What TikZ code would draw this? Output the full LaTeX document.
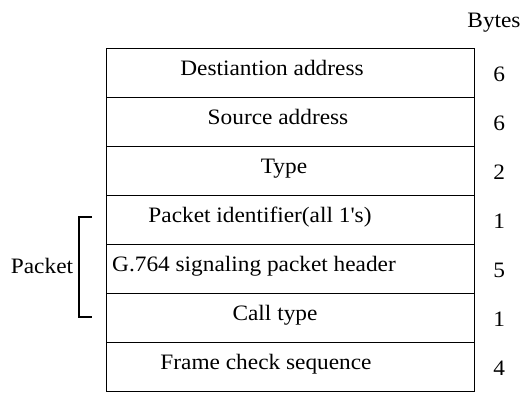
\documentclass[tikz,border=0pt]{standalone}
\usepackage{fontspec}
\setmainfont{Liberation Serif}[Ligatures=TeXOff,FakeStretch=1.06]
\begin{document}
\begin{tikzpicture}[x=1pt,y=-1pt,
  txt/.style={font=\fontsize{22}{25}\selectfont,text height=14.5pt,text depth=0pt,inner sep=0pt},
  field/.style={draw,line width=1.3pt,minimum width=368pt,minimum height=49pt,inner sep=0pt,anchor=north west},
  ftext/.style={txt},
  num/.style={txt},
  lbl/.style={txt}]
\useasboundingbox (0,0) rectangle (530,392);
\foreach \i/\y in {1/48,2/97,3/146,4/195,5/244,6/293,7/342}
  \node[field] (r\i) at (106,\y) {};
\node[ftext] (t1) at (272,68) {Destiantion address};
\node[ftext] (t2) at (278,117) {Source address};
\node[ftext] (t3) at (284,166) {Type};
\node[ftext] (t4) at (260,215) {Packet identifier(all 1's)};
\node[ftext,anchor=west] (t5) at (112,264) {G.764 signaling packet header};
\node[ftext] (t6) at (275,313) {Call type};
\node[ftext] (t7) at (266,362) {Frame check sequence};
\node[lbl] (bytes) at (494,20) {Bytes};
\foreach \i/\v in {1/6,2/6,3/2,4/1,5/5,6/1,7/4}
  \node[num] (n\i) at ([xshift=24pt,yshift=-1pt]r\i.east) {\v};
\coordinate (bt) at (92,217);
\coordinate (bb) at (92,317);
\draw[line width=1.3pt] (bt) -- ++(-13,0) |- (bb);
\node[lbl] (pk) at (42,266.5) {Packet};
\end{tikzpicture}
\end{document}
